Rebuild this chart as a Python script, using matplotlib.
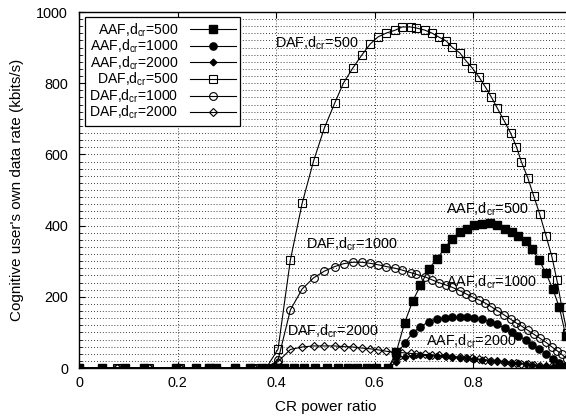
import matplotlib
matplotlib.use("Agg")
import matplotlib.pyplot as plt
from matplotlib.ticker import MultipleLocator

plt.rcParams['font.family'] = ['Liberation Sans', 'DejaVu Sans']
plt.rcParams['mathtext.fontset'] = 'custom'
plt.rcParams['mathtext.rm'] = 'Liberation Sans'
plt.rcParams['mathtext.it'] = 'Liberation Sans'

# ---- data ----
daf_x = [0.0, 0.078, 0.142, 0.206, 0.263, 0.316, 0.356, 0.380, 0.404, 0.429, 0.453, 0.476,
         0.498, 0.519, 0.537, 0.556, 0.574, 0.591, 0.607, 0.624, 0.642, 0.656, 0.673,
         0.685, 0.702, 0.716, 0.730, 0.745, 0.757, 0.773, 0.786, 0.798, 0.812, 0.825,
         0.837, 0.849, 0.862, 0.876, 0.888, 0.898, 0.911, 0.923, 0.935, 0.948, 0.960,
         0.970, 0.980, 0.991, 0.999]
daf_500 = [0, 0, 0, 0, 0, 0, 0, 0, 53, 303, 463, 581,
           674, 744, 801, 843, 879, 910, 930, 941, 949, 958, 958,
           955, 949, 941, 930, 919, 902, 885, 862, 843, 817, 789,
           761, 730, 697, 660, 621, 579, 534, 483, 433, 371, 312,
           247, 171, 98, 10]
daf_1000 = [0, 0, 0, 0, 0, 0, 0, 0, 22, 163, 222, 253,
            272, 285, 293, 297, 297, 294, 290, 285, 280, 275, 268,
            263, 256, 248, 240, 233, 227, 217, 208, 200, 191, 182,
            172, 161, 150, 137, 126, 118, 106, 95, 84, 72, 59,
            49, 38, 25, 14]
daf_2000 = [0, 0, 0, 0, 0, 0, 0, 0, 18, 52, 59, 62,
            62, 62, 60, 59, 56, 54, 51, 47, 44, 43, 41,
            40, 38, 37, 36, 34, 32, 30, 28, 27, 25, 23,
            21, 19, 17, 15, 13, 12, 10, 9, 7, 6, 5,
            4, 3, 2, 1]

aaf_x = [0.0, 0.047, 0.094, 0.131, 0.197, 0.238, 0.263, 0.279, 0.316, 0.347, 0.371, 0.398,
         0.416, 0.437, 0.457, 0.480, 0.503, 0.525, 0.546, 0.564, 0.585, 0.603,
         0.628, 0.644, 0.661, 0.677, 0.693, 0.710, 0.726, 0.743, 0.757, 0.773, 0.788,
         0.802, 0.818, 0.835, 0.849, 0.864, 0.878, 0.892, 0.907, 0.920, 0.934, 0.948,
         0.962, 0.975, 0.988, 0.998]
aaf_500 = [0, 0, 0, 0, 0, 0, 0, 0, 0, 0, 0, 0,
           0, 0, 0, 0, 0, 0, 0, 0, 0, 0,
           0, 45, 127, 187, 232, 278, 306, 337, 363, 382, 391,
           402, 405, 408, 402, 391, 382, 372, 357, 334, 303, 266,
           221, 170, 91, 20]
aaf_1000 = [0, 0, 0, 0, 0, 0, 0, 0, 0, 0, 0, 0,
            0, 0, 0, 0, 0, 0, 0, 0, 0, 0,
            0, 35, 70, 98, 116, 130, 138, 141, 143, 143, 142,
            140, 137, 130, 123, 112, 102, 91, 78, 66, 52, 40,
            26, 14, 5, 0]
aaf_2000 = [0, 0, 0, 0, 0, 0, 0, 0, 0, 0, 0, 0,
            0, 0, 0, 0, 0, 0, 0, 0, 0, 0,
            0, 17, 30, 35, 36, 35, 34, 33, 31, 29, 27,
            25, 23, 21, 19, 17, 15, 13, 11, 9, 7, 6,
            4, 3, 1, 0]

labels = ['AAF,d$_{\\rm cr}$=500', 'AAF,d$_{\\rm cr}$=1000', 'AAF,d$_{\\rm cr}$=2000',
          'DAF,d$_{\\rm cr}$=500', 'DAF,d$_{\\rm cr}$=1000', 'DAF,d$_{\\rm cr}$=2000']

fig = plt.figure(figsize=(5.66, 4.16), dpi=100)
ax = fig.add_axes([79/566, 1-368/416, 1-79/566+0.01, (368-12)/416])

lw = 0.8
ax.plot(aaf_x, aaf_500, color='black', lw=lw, marker='s', ms=5.6, mfc='black', mec='black', label=labels[0], zorder=5)
ax.plot(aaf_x, aaf_1000, color='black', lw=lw, marker='o', ms=5.2, mfc='black', mec='black', label=labels[1], zorder=5)
ax.plot(aaf_x, aaf_2000, color='black', lw=lw, marker='D', ms=3.4, mfc='black', mec='black', label=labels[2], zorder=5)
ax.plot(daf_x, daf_500, color='black', lw=lw, marker='s', ms=5.6, mfc='none', mec='black', mew=0.8, label=labels[3], zorder=4)
ax.plot(daf_x, daf_1000, color='black', lw=lw, marker='o', ms=5.6, mfc='none', mec='black', mew=0.8, label=labels[4], zorder=4)
ax.plot(daf_x, daf_2000, color='black', lw=lw, marker='D', ms=4.0, mfc='none', mec='black', mew=0.8, label=labels[5], zorder=4)

ax.set_xlim(0, 1)
ax.set_ylim(0, 1000)
ax.yaxis.set_major_locator(MultipleLocator(200))
ax.yaxis.set_minor_locator(MultipleLocator(20))
ax.set_xticks([0, 0.2, 0.4, 0.6, 0.8])
ax.set_xticklabels(['0', '0.2', '0.4', '0.6', '0.8'])
ax.tick_params(direction='in', which='both', top=True, right=True, labelsize=10.4)
ax.tick_params(axis='y', pad=8)
ax.tick_params(axis='x', pad=6)
ax.tick_params(which='minor', length=2.5)
ax.tick_params(which='major', length=4.5)
ax.grid(True, which='major', axis='x', color='black', ls=(0, (1, 2.5)), lw=0.6)
ax.grid(True, which='both', axis='y', color='black', ls=(0, (1, 2.5)), lw=0.6)
for s in ax.spines.values():
    s.set_linewidth(1.0)

ax.set_xlabel('CR power ratio', fontsize=11, labelpad=7)
ax.set_ylabel("Cognitive user's own data rate (kbits/s)", fontsize=11, labelpad=9)

fs = 10.4
ax.text(0.398, 899, labels[3], fontsize=fs, va='baseline', ha='left', zorder=6)
ax.text(0.460, 334, labels[4], fontsize=fs, va='baseline', ha='left', zorder=6)
ax.text(0.423, 90, labels[5], fontsize=fs, va='baseline', ha='left', zorder=6)
ax.text(0.745, 433, labels[0], fontsize=fs, va='baseline', ha='left', zorder=6)
ax.text(0.745, 230, labels[1], fontsize=fs, va='baseline', ha='left', zorder=6)
ax.text(0.704, 62, labels[2], fontsize=fs, va='baseline', ha='left', zorder=6)

leg = ax.legend(loc='upper left', bbox_to_anchor=(0.012, 0.986), markerfirst=False,
                fontsize=10.1, frameon=True, fancybox=False, edgecolor='black',
                framealpha=1, handlelength=3.3, labelspacing=-0.06, borderpad=0.3,
                handletextpad=0.8, borderaxespad=0)
leg.get_frame().set_linewidth(0.9)
leg.set_zorder(10)
try:
    leg._legend_handle_box.get_children()[0].align = 'right'
except Exception:
    pass

fig.savefig('out.png', dpi=100)
